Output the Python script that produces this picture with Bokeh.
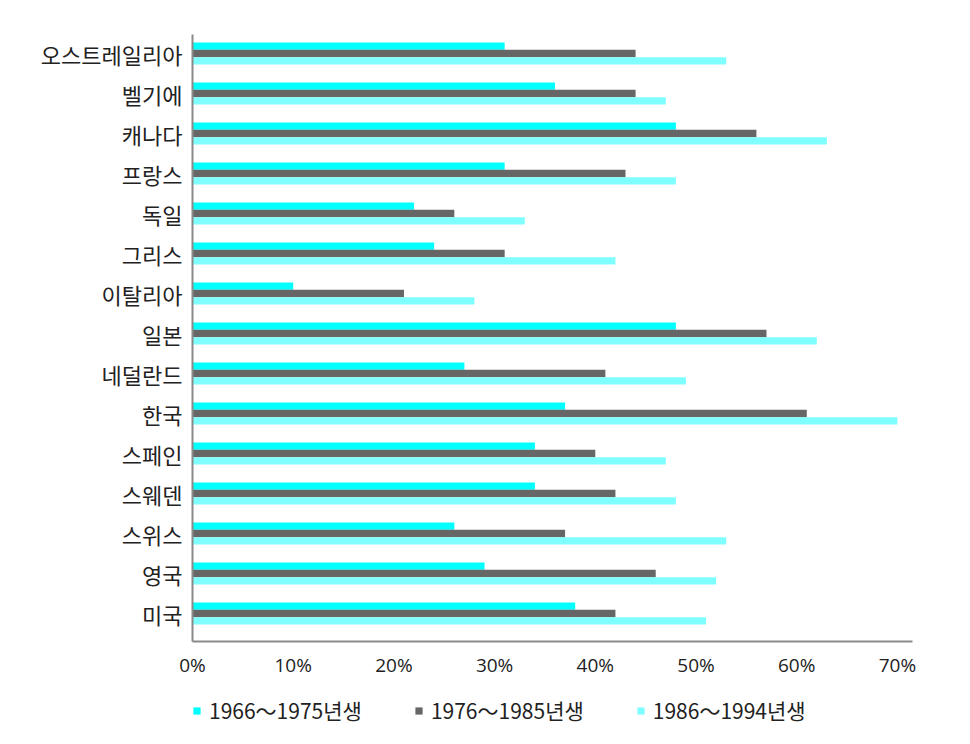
from bokeh.plotting import figure
from bokeh.layouts import column
from bokeh.models import ColumnDataSource, Range1d, FixedTicker, Legend, LegendItem
from bokeh.embed import file_html
from bokeh.resources import INLINE

countries = ["오스트레일리아", "벨기에", "캐나다", "프랑스", "독일", "그리스", "이탈리아",
             "일본", "네덜란드", "한국", "스페인", "스웨덴", "스위스", "영국", "미국"]
gen_1966_1975 = [31, 36, 48, 31, 22, 24, 10, 48, 27, 37, 34, 34, 26, 29, 38]
gen_1976_1985 = [44, 44, 56, 43, 26, 31, 21, 57, 41, 61, 40, 42, 37, 46, 42]
gen_1986_1994 = [53, 47, 63, 48, 33, 42, 28, 62, 49, 70, 47, 48, 53, 52, 51]
series_names = ["1966～1975년생", "1976～1985년생", "1986～1994년생"]
x_ticks = [0, 10, 20, 30, 40, 50, 60, 70]

colors = ["#00FFFF", "#666666", "#80FFFF"]
n = len(countries)
pos = [n - 1 - i for i in range(n)]

H1 = 685
p = figure(width=970, height=H1, output_backend="svg", toolbar_location=None,
           x_range=Range1d(0, 71.5), y_range=Range1d(-0.7, n - 1 + 0.475),
           min_border_left=192, min_border_right=58, min_border_top=34, min_border_bottom=H1 - 641)
p.background_fill_color = "white"
p.border_fill_color = "white"
p.outline_line_color = None
p.grid.visible = False

bh = 0.185
offsets = [bh, 0, -bh]
for vals, off, col in zip([gen_1966_1975, gen_1976_1985, gen_1986_1994], offsets, colors):
    src = ColumnDataSource(dict(y=[v + off for v in pos], right=vals))
    p.hbar(y="y", left=0, right="right", height=bh, source=src,
           fill_color=col, line_color=None)

# y axis
p.yaxis.ticker = FixedTicker(ticks=pos)
p.yaxis.major_label_overrides = {pv: c for pv, c in zip(pos, countries)}
p.yaxis.major_label_text_font = "Noto Sans CJK KR"
p.yaxis.major_label_text_font_size = "22px"
p.yaxis.major_label_text_color = "#222222"
p.yaxis.major_label_standoff = 4
p.yaxis.major_tick_line_color = None
p.yaxis.minor_tick_line_color = None
p.yaxis.axis_line_color = "#8a8a8a"
p.yaxis.axis_line_width = 2

# x axis
p.xaxis.ticker = FixedTicker(ticks=x_ticks)
p.xaxis.major_label_overrides = {t: f"{t}%" for t in x_ticks}
p.xaxis.major_label_text_font = "Open Sans"
p.xaxis.major_label_text_font_size = "19px"
p.xaxis.major_label_text_color = "#222222"
p.xaxis.major_label_standoff = 4
p.xaxis.major_tick_line_color = None
p.xaxis.minor_tick_line_color = None
p.xaxis.axis_line_color = "#8a8a8a"
p.xaxis.axis_line_width = 2

# legend strip
H2 = 744 - H1
lg = figure(width=970, height=H2, output_backend="svg", toolbar_location=None,
            x_range=Range1d(0, 1), y_range=Range1d(0, 1),
            x_axis_type=None, y_axis_type=None,
            min_border=0, min_border_left=0, min_border_right=0, min_border_top=0, min_border_bottom=0)
lg.grid.visible = False
lg.outline_line_color = None
lg.outline_line_alpha = 0
lg.background_fill_color = None
lg.border_fill_color = None
dummy = []
for col in colors:
    dummy.append(lg.hbar(y=[5], left=[0], right=[0], height=0.0, fill_color=col, line_color=None))

legend = Legend(items=[LegendItem(label=nm, renderers=[r]) for nm, r in zip(series_names, dummy)],
                orientation="horizontal", location=(0, 19), margin=0, padding=0,
                glyph_width=9, glyph_height=9, label_standoff=8, spacing=52,
                label_text_font="Noto Sans CJK KR", label_text_font_size="21px",
                label_text_color="#222222", border_line_color=None, background_fill_alpha=0)
lg.add_layout(legend)

layout = column(p, lg, spacing=0)
open("out.html", "w").write(file_html(layout, INLINE))
